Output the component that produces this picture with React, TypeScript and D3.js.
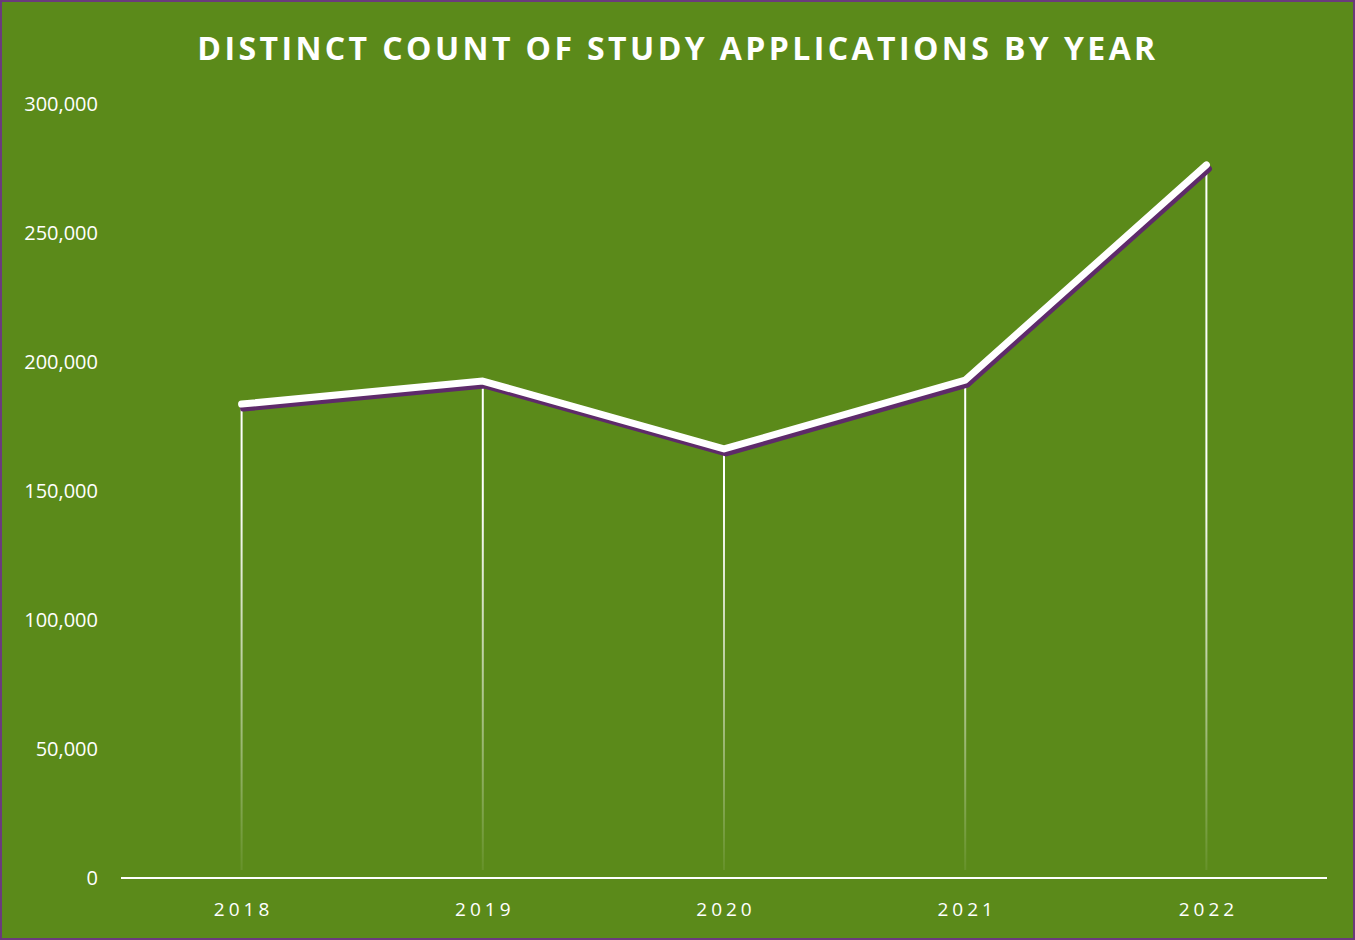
import { useRef, useEffect } from 'react';
import * as d3 from 'd3';

const years = ['2018', '2019', '2020', '2021', '2022'];
const applications = [183700, 192600, 166300, 193000, 276400];
const yTicks = [0, 50000, 100000, 150000, 200000, 250000, 300000];

export default function App() {
  const svgRef = useRef<SVGSVGElement | null>(null);

  useEffect(() => {
    const W = 1355;
    const H = 940;
    const margin = { top: 104, right: 28, bottom: 62, left: 121 };

    const svg = d3.select(svgRef.current)
      .html('')
      .attr('width', W)
      .attr('height', H);

    const defs = svg.append('defs');
    const grad = defs.append('linearGradient')
      .attr('id', 'dropFade')
      .attr('gradientUnits', 'userSpaceOnUse')
      .attr('x1', 0).attr('x2', 0)
      .attr('y1', 500).attr('y2', H - margin.bottom);
    grad.append('stop').attr('offset', '0%').attr('stop-color', '#ffffff').attr('stop-opacity', 1);
    grad.append('stop').attr('offset', '100%').attr('stop-color', '#ffffff').attr('stop-opacity', 0.05);

    // фон и рамка
    svg.append('rect')
      .attr('x', 1).attr('y', 1)
      .attr('width', W - 2).attr('height', H - 2)
      .attr('fill', '#5b8a1a')
      .attr('stroke', '#6b3a7c')
      .attr('stroke-width', 2);

    const x = d3.scaleBand<string>()
      .domain(years)
      .range([margin.left, W - margin.right]);

    const y = d3.scaleLinear()
      .domain([0, 300000])
      .range([H - margin.bottom, margin.top]);

    const cx = (d: string) => (x(d) as number) + x.bandwidth() / 2;

    // заголовок
    svg.append('text')
      .attr('x', 678)
      .attr('y', 60)
      .attr('text-anchor', 'middle')
      .attr('fill', '#ffffff')
      .attr('font-family', '"Open Sans", sans-serif')
      .attr('font-weight', 700)
      .attr('font-size', 32)
      .attr('letter-spacing', 3.4)
      .text('DISTINCT COUNT OF STUDY APPLICATIONS BY YEAR');

    // подписи оси Y
    svg.append('g')
      .selectAll('text')
      .data(yTicks)
      .enter()
      .append('text')
      .attr('x', 98)
      .attr('y', d => y(d) + 7)
      .attr('text-anchor', 'end')
      .attr('fill', '#ffffff')
      .attr('font-family', '"Open Sans", sans-serif')
      .attr('font-size', 20)
      .text(d => d3.format(',')(d));

    // вертикальные линии
    svg.append('g')
      .selectAll('line')
      .data(years)
      .enter()
      .append('line')
      .attr('x1', d => cx(d))
      .attr('x2', d => cx(d))
      .attr('y1', (d, i) => y(applications[i]))
      .attr('y2', H - margin.bottom - 8)
      .attr('stroke', 'url(#dropFade)')
      .attr('stroke-width', 2);

    // ось X
    svg.append('line')
      .attr('x1', margin.left)
      .attr('x2', W - margin.right)
      .attr('y1', y(0))
      .attr('y2', y(0))
      .attr('stroke', '#ffffff')
      .attr('stroke-width', 2);

    svg.append('g')
      .selectAll('text')
      .data(years)
      .enter()
      .append('text')
      .attr('x', d => cx(d) + 2)
      .attr('y', 916)
      .attr('text-anchor', 'middle')
      .attr('fill', '#ffffff')
      .attr('font-family', '"Open Sans", sans-serif')
      .attr('font-size', 19)
      .attr('letter-spacing', 4)
      .text(d => d);

    const line = d3.line<number>()
      .x((d, i) => cx(years[i]))
      .y(d => y(d));

    // тень линии
    svg.append('path')
      .datum(applications)
      .attr('fill', 'none')
      .attr('stroke', '#5e2a6a')
      .attr('stroke-width', 7)
      .attr('stroke-linecap', 'round')
      .attr('stroke-linejoin', 'round')
      .attr('transform', 'translate(2,4)')
      .attr('d', line);

    svg.append('path')
      .datum(applications)
      .attr('fill', 'none')
      .attr('stroke', '#ffffff')
      .attr('stroke-width', 7)
      .attr('stroke-linecap', 'round')
      .attr('stroke-linejoin', 'round')
      .attr('d', line);
  }, []);

  return (
    <div style={{ position: 'absolute', left: 0, top: 0 }}>
      <svg ref={svgRef} style={{ display: 'block' }} />
    </div>
  );
}
